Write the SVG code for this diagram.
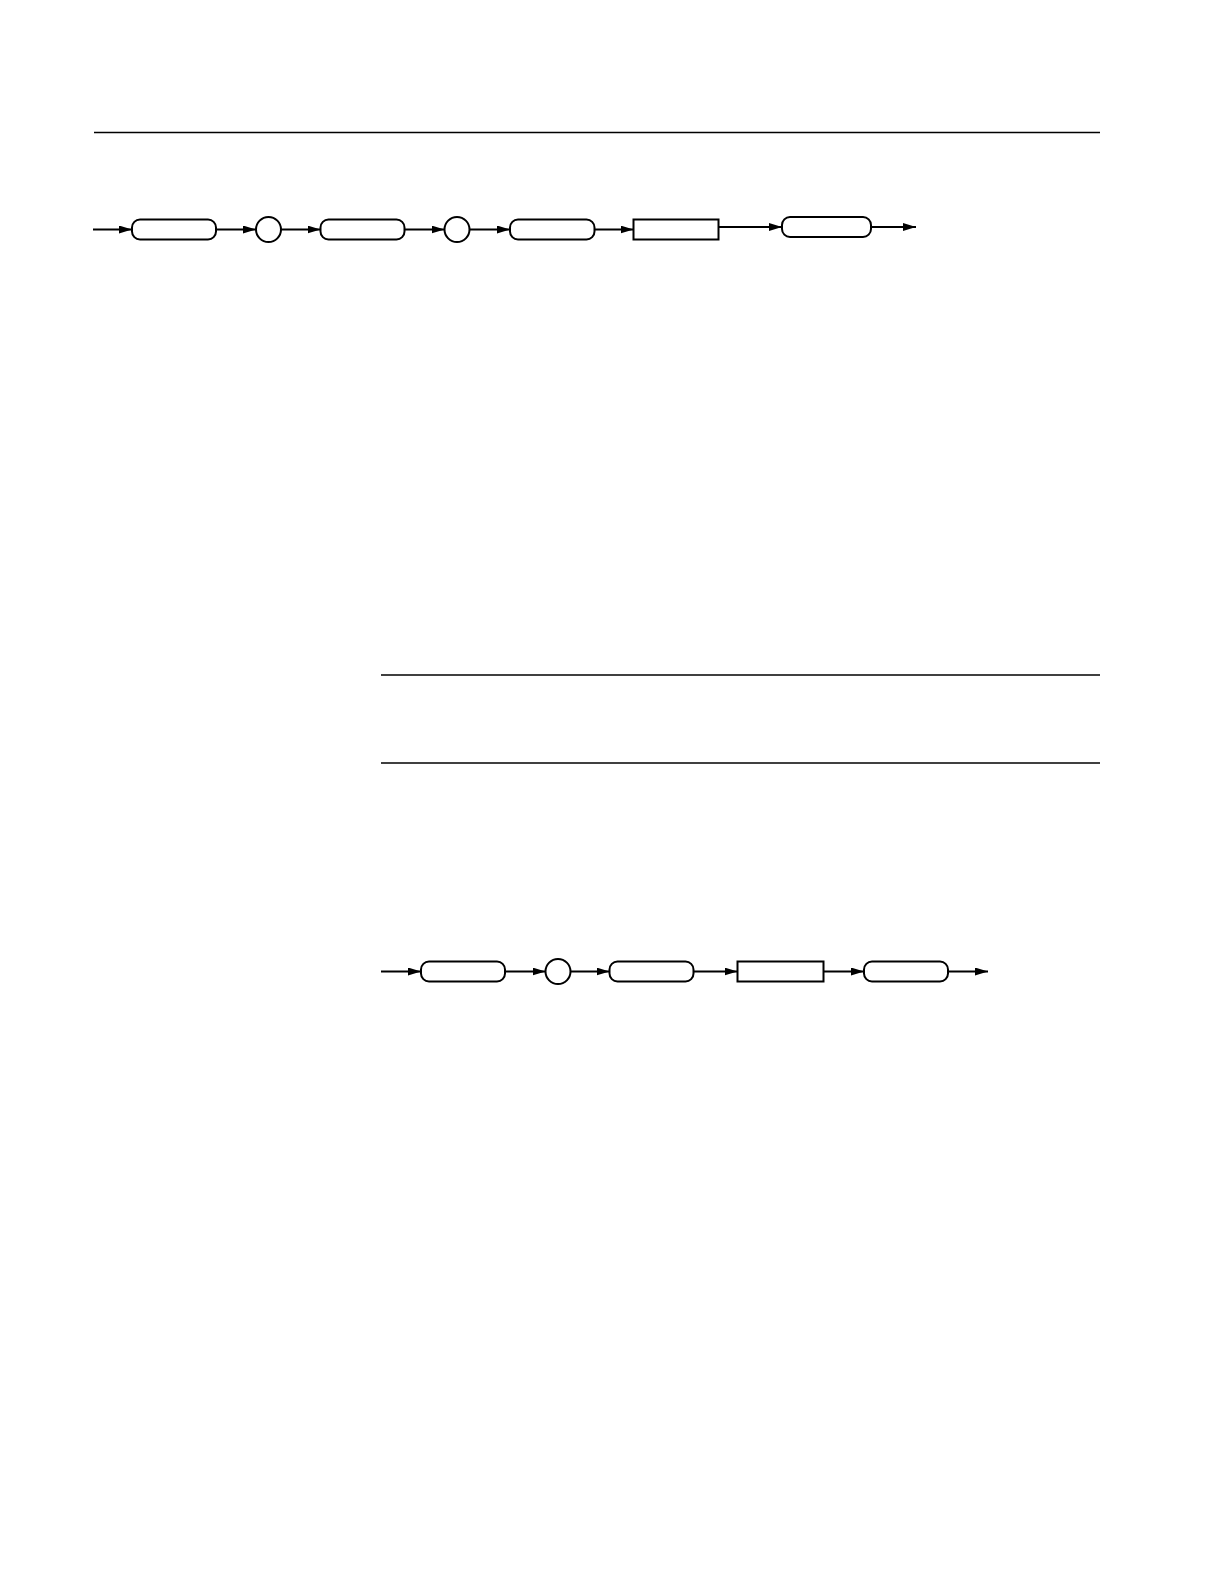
<svg xmlns="http://www.w3.org/2000/svg" width="1224" height="1584" viewBox="0 0 1224 1584">
<style>
.rule{stroke:#000;stroke-width:1.3;fill:none}
.node{fill:#fff;stroke:#000;stroke-width:2}
.conn{stroke:#000;stroke-width:2;fill:none;marker-end:url(#ah)}
</style>
<defs>
<marker id="ah" viewBox="0 0 13 8" refX="13" refY="4" markerWidth="13" markerHeight="8" markerUnits="userSpaceOnUse" orient="auto">
<path d="M0,0 L13,4 L0,8 Z" fill="#000"/>
</marker>
</defs>
<rect width="1224" height="1584" fill="#fff"/>
<g id="rules">
<line class="rule" x1="94" y1="132.5" x2="1100" y2="132.5"/>
<line class="rule" x1="381" y1="675" x2="1100" y2="675"/>
<line class="rule" x1="381" y1="763" x2="1100" y2="763"/>
</g>
<g id="connectors">
<line class="conn" x1="93" y1="229.5" x2="132" y2="229.5"/>
<line class="conn" x1="216" y1="229.5" x2="256" y2="229.5"/>
<line class="conn" x1="281" y1="229.5" x2="320.5" y2="229.5"/>
<line class="conn" x1="404.5" y1="229.5" x2="444.5" y2="229.5"/>
<line class="conn" x1="469.5" y1="229.5" x2="510" y2="229.5"/>
<line class="conn" x1="594.5" y1="229.5" x2="633.5" y2="229.5"/>
<line class="conn" x1="718.5" y1="227" x2="782" y2="227"/>
<line class="conn" x1="871" y1="227" x2="916" y2="227"/>
<line class="conn" x1="381" y1="971.5" x2="421" y2="971.5"/>
<line class="conn" x1="505" y1="971.5" x2="545.5" y2="971.5"/>
<line class="conn" x1="570.5" y1="971.5" x2="609.5" y2="971.5"/>
<line class="conn" x1="693.5" y1="971.5" x2="737.5" y2="971.5"/>
<line class="conn" x1="823.5" y1="971.5" x2="864" y2="971.5"/>
<line class="conn" x1="948" y1="971.5" x2="988" y2="971.5"/>
</g>
<g id="n1"><rect class="node" x="132" y="219.5" width="84" height="20" rx="8"/></g>
<g id="n2"><circle class="node" cx="268.5" cy="229.5" r="12.5"/></g>
<g id="n3"><rect class="node" x="320.5" y="219.5" width="84" height="20" rx="8"/></g>
<g id="n4"><circle class="node" cx="457" cy="229.5" r="12.5"/></g>
<g id="n5"><rect class="node" x="510" y="219.5" width="84.5" height="20" rx="8"/></g>
<g id="n6"><rect class="node" x="633.5" y="219.5" width="85" height="20"/></g>
<g id="n7"><rect class="node" x="782" y="217" width="89" height="20" rx="8"/></g>
<g id="n8"><rect class="node" x="421" y="961.5" width="84" height="20" rx="8"/></g>
<g id="n9"><circle class="node" cx="558" cy="971.5" r="12.5"/></g>
<g id="n10"><rect class="node" x="609.5" y="961.5" width="84" height="20" rx="8"/></g>
<g id="n11"><rect class="node" x="737.5" y="961.5" width="86" height="20"/></g>
<g id="n12"><rect class="node" x="864" y="961.5" width="84" height="20" rx="8"/></g>
</svg>
